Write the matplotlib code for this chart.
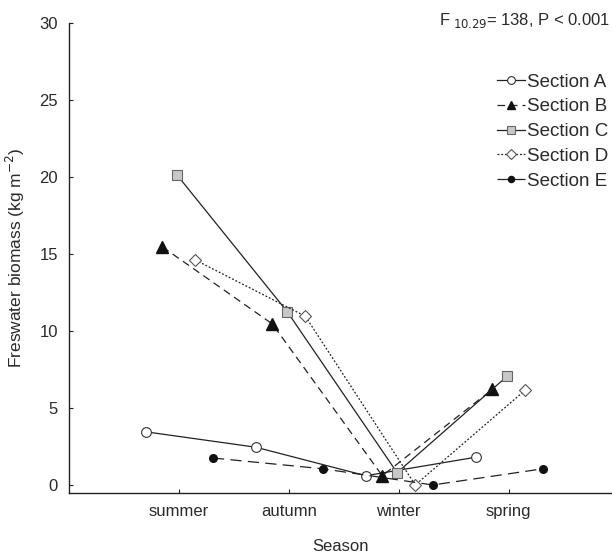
import matplotlib
matplotlib.use("Agg")
import matplotlib.pyplot as plt
import numpy as np

plt.rcParams['font.family'] = ['Liberation Sans', 'DejaVu Sans']

seasons = ['summer', 'autumn', 'winter', 'spring']
section_a = [3.45, 2.45, 0.6, 1.8]
section_b = [15.45, 10.45, 0.6, 6.2]
section_c = [20.1, 11.25, 0.8, 7.05]
section_d = [14.6, 10.95, 0.0, 6.15]
section_e = [1.75, 1.05, 0.0, 1.05]

txt = '#2a2a2a'
fig = plt.figure(figsize=(6.12, 5.52), dpi=100)
ax = fig.add_axes([0.1127, 0.1069, 0.8873, 0.8520])

x = np.arange(1, 5)
lw = 0.9
# стиль каждой секции: смещение, маркер, линия
ax.plot(x - 0.30, section_a, color='#222222', lw=lw, ls='-', marker='o', ms=7,
        mfc='white', mec='#333333', mew=0.8, label='Section A')
ax.plot(x - 0.15, section_b, color='#222222', lw=lw, ls=(0, (6, 4)), marker='^', ms=8,
        mfc='#111111', mec='#111111', label='Section B')
ax.plot(x - 0.015, section_c, color='#222222', lw=lw, ls='-', marker='s', ms=7,
        mfc='#c8c8c8', mec='#666666', mew=0.8, label='Section C')
ax.plot(x + 0.15, section_d, color='#222222', lw=lw, ls=(0, (1.5, 1.5)), marker='D', ms=6,
        mfc='white', mec='#555555', mew=0.8, label='Section D')
ax.plot(x + 0.31, section_e, color='#222222', lw=lw, ls=(0, (9, 5)), marker='o', ms=5.5,
        mfc='#111111', mec='#111111', label='Section E')

ax.set_xlim(0, 4.94)
ax.set_ylim(-0.52, 30)
ax.set_xticks(x)
ax.set_xticklabels(seasons)
ax.set_yticks(np.arange(0, 31, 5))
ax.tick_params(direction='in', length=3, width=0.8, labelsize=12, colors='#222222',
               labelcolor=txt, pad=8)
ax.spines['top'].set_visible(False)
ax.spines['right'].set_visible(False)
for s in ['left', 'bottom']:
    ax.spines[s].set_linewidth(1.0)
    ax.spines[s].set_color('#222222')

ax.set_xlabel('Season', fontsize=12, color=txt, labelpad=14)
ax.set_ylabel('Freswater biomass (kg m$^{-2}$)', fontsize=12.5, color=txt, labelpad=9)

fig.text(0.997, 0.955, 'F$_{\\ 10.29}$= 138, P < 0.001', ha='right', va='baseline',
         fontsize=12, color=txt)

leg = ax.legend(loc='upper right', bbox_to_anchor=(1.0, 0.9), frameon=False, fontsize=13.5,
                handlelength=1.5, handletextpad=0.1, labelspacing=0.41, borderaxespad=0.05,
                borderpad=0.15, markerscale=0.8)
for t in leg.get_texts():
    t.set_color(txt)

fig.savefig('out.png', dpi=100)
